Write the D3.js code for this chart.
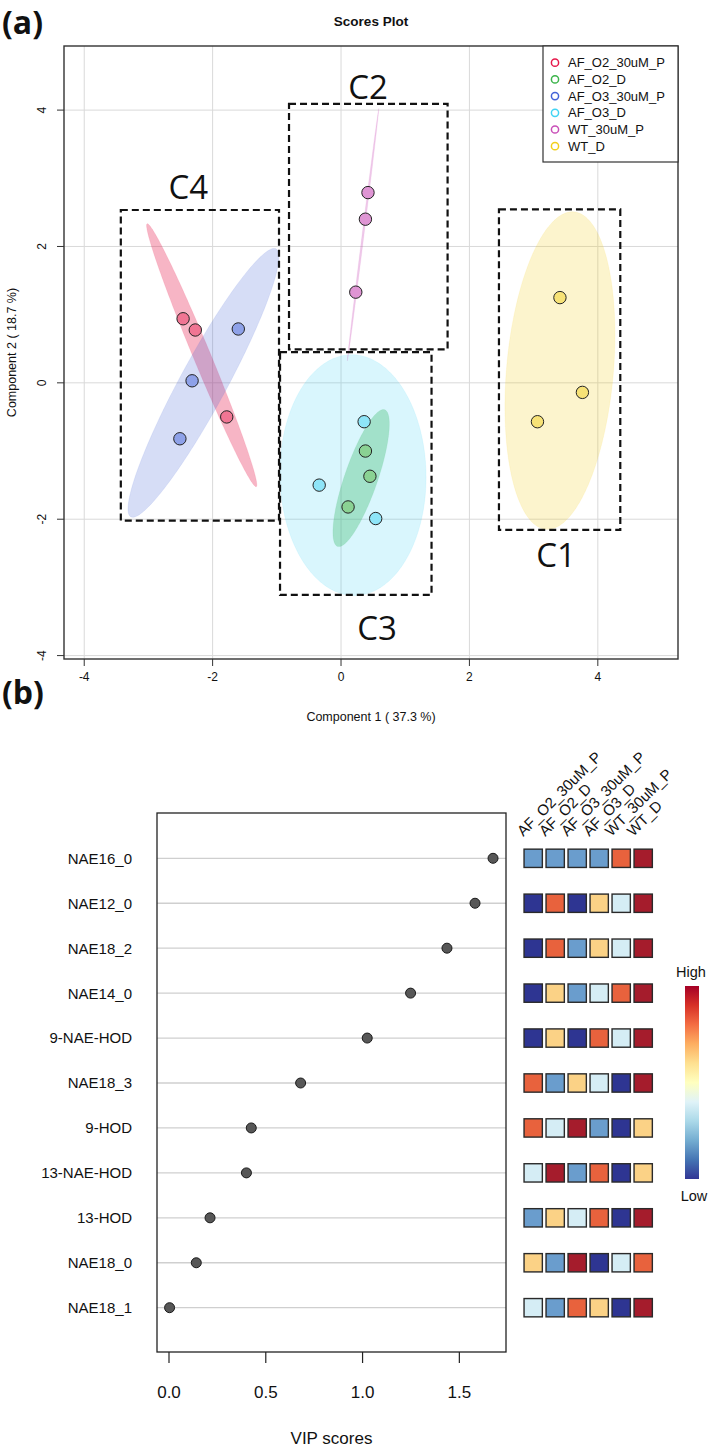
<!DOCTYPE html>
<html><head><meta charset="utf-8">
<script src="https://cdn.jsdelivr.net/npm/d3@7"></script>
<style>
body{margin:0;background:#fff}
svg{display:block}
text{font-family:"Liberation Sans",Arial,sans-serif;fill:#111}
</style>
</head><body>
<svg id="c" width="709" height="1447"></svg>
<script>
// ---------- Panel (a): PLS-DA scores ----------
const groups = ["AF_O2_30uM_P","AF_O2_D","AF_O3_30uM_P","AF_O3_D","WT_30uM_P","WT_D"];
const groupColors = ["#e6194b","#3cb44b","#4363d8","#42d4f4","#c94fb8","#f2cf1a"];
const sampleGroup = ["AF_O2_30uM_P","AF_O2_30uM_P","AF_O2_30uM_P",
  "AF_O2_D","AF_O2_D","AF_O2_D",
  "AF_O3_30uM_P","AF_O3_30uM_P","AF_O3_30uM_P",
  "AF_O3_D","AF_O3_D","AF_O3_D",
  "WT_30uM_P","WT_30uM_P","WT_30uM_P",
  "WT_D","WT_D","WT_D"];
const comp1 = [-2.46,-2.27,-1.78, 0.38,0.45,0.11, -1.60,-2.32,-2.51, 0.36,-0.34,0.54, 0.42,0.38,0.23, 3.41,3.76,3.06];
const comp2 = [0.94,0.775,-0.50, -1.00,-1.37,-1.82, 0.79,0.03,-0.82, -0.57,-1.50,-1.99, 2.79,2.40,1.33, 1.25,-0.14,-0.57];
const scoreTicks = [-4,-2,0,2,4];
// cluster annotation boxes (data units)
const clusterNames = ["C1","C2","C3","C4"];
const clusterX0 = [2.46,-0.81,-0.95,-3.43];
const clusterX1 = [4.35,1.66,1.41,-0.966];
const clusterY0 = [-2.157,0.49,-3.11,-2.02];
const clusterY1 = [2.545,4.09,0.45,2.535];
const clusterLabelX = [3.35,0.42,0.56,-2.38];
const clusterLabelY = [-2.70,4.16,-3.77,2.69];

// ---------- Panel (b): VIP scores ----------
const features = ["NAE16_0","NAE12_0","NAE18_2","NAE14_0","9-NAE-HOD","NAE18_3","9-HOD","13-NAE-HOD","13-HOD","NAE18_0","NAE18_1"];
const vipScores = [1.674,1.581,1.436,1.248,1.024,0.680,0.425,0.400,0.212,0.141,0.003];
const vipTicks = [0,0.5,1.0,1.5];
// relative level (1=low ... 6=high) per feature, per group
const heatLevels = [
  [2,2,2,2,5,6],
  [1,5,1,4,3,6],
  [1,5,2,4,3,6],
  [1,4,2,3,5,6],
  [1,4,1,5,3,6],
  [5,2,4,3,1,6],
  [5,3,6,2,1,4],
  [3,6,2,5,1,4],
  [2,4,3,5,1,6],
  [4,2,6,1,3,5],
  [3,2,5,4,1,6]
];
const heatColors = ["#2e3592","#6a9dcd","#d5edf5","#fbd286","#e8623d","#a51c2c"];
const rampColors = ["#313695","#4575b4","#74add1","#abd9e9","#e0f3f8","#ffffbf","#fee090","#fdae61","#f46d43","#d73027","#a50026"];

const svg = d3.select("#c");

// ================= Panel (a) =================
const ax = {l:64, r:678, t:46, b:659};
const x = d3.scaleLinear().domain([-4.315,5.249]).range([ax.l,ax.r]);
const y = d3.scaleLinear().domain([-4.05,4.94]).range([ax.b,ax.t]);
const color = d3.scaleOrdinal().domain(groups).range(groupColors);

svg.append("text").attr("x",2).attr("y",34).attr("font-size",32).attr("font-weight","bold")
  .style("font-family","'Open Sans','Liberation Sans',sans-serif").text("(a)");
svg.append("text").attr("x",(ax.l+ax.r)/2).attr("y",26).attr("text-anchor","middle")
  .attr("font-size",13.5).attr("font-weight","bold").text("Scores Plot");

const ga = svg.append("g");
// grid
ga.selectAll(".gx").data(scoreTicks).join("line")
  .attr("x1",d=>x(d)).attr("x2",d=>x(d)).attr("y1",ax.t).attr("y2",ax.b)
  .attr("stroke","#d9d9d9").attr("stroke-width",1);
ga.selectAll(".gy").data(scoreTicks).join("line")
  .attr("y1",d=>y(d)).attr("y2",d=>y(d)).attr("x1",ax.l).attr("x2",ax.r)
  .attr("stroke","#d9d9d9").attr("stroke-width",1);

// ellipses (95% confidence, ellipse-package parametrisation)
function ellipsePts(xs, ys){
  const n = xs.length, mx = d3.mean(xs), my = d3.mean(ys);
  const sx = d3.deviation(xs), sy = d3.deviation(ys);
  let cv = 0; for (let i=0;i<n;i++) cv += (xs[i]-mx)*(ys[i]-my); cv /= (n-1);
  const r = Math.max(-1, Math.min(1, cv/(sx*sy)));
  const d = Math.acos(r);
  const t = Math.sqrt(5.991464547107979);
  return d3.range(0,201).map(k=>{const a = 2*Math.PI*k/200;
    return [mx + t*sx*Math.cos(a+d/2), my + t*sy*Math.cos(a-d/2)];});
}
const line = d3.line().x(d=>x(d[0])).y(d=>y(d[1]));
const ellOpacity = [0.32,0.35,0.22,0.2,0.3,0.22];
groups.forEach((g,gi)=>{
  const idx = sampleGroup.map((s,i)=>s===g?i:-1).filter(i=>i>=0);
  const pts = ellipsePts(idx.map(i=>comp1[i]), idx.map(i=>comp2[i]));
  ga.append("path").attr("d", line(pts)+"Z")
    .attr("fill", color(g)).attr("fill-opacity", ellOpacity[gi])
    .attr("stroke", color(g)).attr("stroke-opacity", 0.12).attr("stroke-width",0.8);
});

// points
ga.selectAll(".pt").data(sampleGroup.map((g,i)=>({g, c1:comp1[i], c2:comp2[i]}))).join("circle")
  .attr("cx",d=>x(d.c1)).attr("cy",d=>y(d.c2)).attr("r",6.2)
  .attr("fill",d=>d3.interpolateRgb("#ffffff", color(d.g))(0.6))
  .attr("stroke","#222").attr("stroke-width",1);

// cluster boxes
clusterNames.forEach((c,i)=>{
  ga.append("rect")
    .attr("x", x(clusterX0[i])).attr("y", y(clusterY1[i]))
    .attr("width", x(clusterX1[i])-x(clusterX0[i])).attr("height", y(clusterY0[i])-y(clusterY1[i]))
    .attr("fill","none").attr("stroke","#111").attr("stroke-width",2.2).attr("stroke-dasharray","7,4");
  ga.append("text").attr("x", x(clusterLabelX[i])).attr("y", y(clusterLabelY[i]))
    .attr("text-anchor","middle").attr("font-size",33)
    .style("font-family","'Open Sans','Liberation Sans',sans-serif").text(c);
});

// frame
ga.append("rect").attr("x",ax.l).attr("y",ax.t).attr("width",ax.r-ax.l).attr("height",ax.b-ax.t)
  .attr("fill","none").attr("stroke","#333").attr("stroke-width",1.4);

// axes ticks
ga.selectAll(".tx").data(scoreTicks).join("line")
  .attr("x1",d=>x(d)).attr("x2",d=>x(d)).attr("y1",ax.b).attr("y2",ax.b+7).attr("stroke","#333");
ga.selectAll(".lx").data(scoreTicks).join("text")
  .attr("x",d=>x(d)).attr("y",ax.b+22).attr("text-anchor","middle").attr("font-size",12).text(d=>d);
ga.selectAll(".ty").data(scoreTicks).join("line")
  .attr("y1",d=>y(d)).attr("y2",d=>y(d)).attr("x1",ax.l-7).attr("x2",ax.l).attr("stroke","#333");
ga.selectAll(".ly").data(scoreTicks).join("text")
  .attr("transform",d=>`translate(${ax.l-18},${y(d)}) rotate(-90)`)
  .attr("text-anchor","middle").attr("font-size",12).text(d=>d);
ga.append("text").attr("x",(ax.l+ax.r)/2).attr("y",721).attr("text-anchor","middle")
  .attr("font-size",12.5).text("Component 1 ( 37.3 %)");
ga.append("text").attr("transform",`translate(16,${(ax.t+ax.b)/2}) rotate(-90)`)
  .attr("text-anchor","middle").attr("font-size",12.5).text("Component 2 ( 18.7 %)");

// legend
const lg = ga.append("g");
lg.append("rect").attr("x",543).attr("y",ax.t).attr("width",ax.r-543).attr("height",116)
  .attr("fill","#fff").attr("stroke","#333").attr("stroke-width",1.2);
groups.forEach((g,i)=>{
  lg.append("circle").attr("cx",555).attr("cy",62.7+i*16.7).attr("r",3.6)
    .attr("fill","none").attr("stroke",color(g)).attr("stroke-width",1.5);
  lg.append("text").attr("x",568).attr("y",62.7+i*16.7).attr("dy","0.36em")
    .attr("font-size",13).attr("fill","#222").text(g);
});

// ================= Panel (b) =================
svg.append("text").attr("x",2).attr("y",704).attr("font-size",32).attr("font-weight","bold")
  .style("font-family","'Open Sans','Liberation Sans',sans-serif").text("(b)");

const bx = {l:157, r:506, t:813, b:1352};
const xv = d3.scaleLinear().domain([-0.062,1.741]).range([bx.l,bx.r]);
const yv = d3.scalePoint().domain(features).range([858.3,1307.7]);
const gb = svg.append("g");
gb.selectAll(".grid").data(features).join("line")
  .attr("x1",bx.l).attr("x2",bx.r).attr("y1",d=>yv(d)).attr("y2",d=>yv(d))
  .attr("stroke","#cfcfcf").attr("stroke-width",1.3);
gb.append("rect").attr("x",bx.l).attr("y",bx.t).attr("width",bx.r-bx.l).attr("height",bx.b-bx.t)
  .attr("fill","none").attr("stroke","#222").attr("stroke-width",1.3);
gb.selectAll(".dot").data(features.map((f,i)=>({f,v:vipScores[i]}))).join("circle")
  .attr("cx",d=>xv(d.v)).attr("cy",d=>yv(d.f)).attr("r",5)
  .attr("fill","#575757").attr("stroke","#1a1a1a").attr("stroke-width",1);
gb.selectAll(".rl").data(features).join("text")
  .attr("x",132).attr("y",d=>yv(d)).attr("dy","0.36em").attr("text-anchor","end")
  .attr("font-size",15).attr("fill","#222").text(d=>d);
gb.selectAll(".vt").data(vipTicks).join("line")
  .attr("x1",d=>xv(d)).attr("x2",d=>xv(d)).attr("y1",bx.b).attr("y2",bx.b+11).attr("stroke","#222").attr("stroke-width",1.2);
gb.selectAll(".vl").data(vipTicks).join("text")
  .attr("x",d=>xv(d)).attr("y",1398).attr("text-anchor","middle").attr("font-size",17)
  .attr("fill","#222").text(d=>d3.format(".1f")(d));
gb.append("text").attr("x",(bx.l+bx.r)/2).attr("y",1444).attr("text-anchor","middle")
  .attr("font-size",17).attr("fill","#222").text("VIP scores");

// heatmap
const hx = d3.scalePoint().domain(groups).range([533.2,643.2]);
const hc = d3.scaleOrdinal().domain([1,2,3,4,5,6]).range(heatColors);
const cell = 18.3;
features.forEach((f,ri)=>{
  gb.selectAll(null).data(heatLevels[ri]).join("rect")
    .attr("x",(d,ci)=>hx(groups[ci])-cell/2).attr("y",yv(f)-cell/2)
    .attr("width",cell).attr("height",cell)
    .attr("fill",d=>hc(d)).attr("stroke","#2a2a2a").attr("stroke-width",1.4);
});
gb.selectAll(".hl").data(groups).join("text")
  .attr("transform",d=>`translate(${hx(d)-10},837) rotate(-45)`)
  .attr("font-size",15).attr("fill","#222").text(d=>d);

// colour key
const defs = svg.append("defs");
const grad = defs.append("linearGradient").attr("id","ramp").attr("x1",0).attr("x2",0).attr("y1",1).attr("y2",0);
rampColors.forEach((c,i)=>grad.append("stop").attr("offset",i/(rampColors.length-1)).attr("stop-color",c));
gb.append("rect").attr("x",685).attr("y",986).attr("width",14).attr("height",193).attr("fill","url(#ramp)");
gb.append("text").attr("x",691).attr("y",977).attr("text-anchor","middle").attr("font-size",14.5).attr("fill","#222").text("High");
gb.append("text").attr("x",694).attr("y",1201).attr("text-anchor","middle").attr("font-size",14.5).attr("fill","#222").text("Low");
</script>
</body></html>
